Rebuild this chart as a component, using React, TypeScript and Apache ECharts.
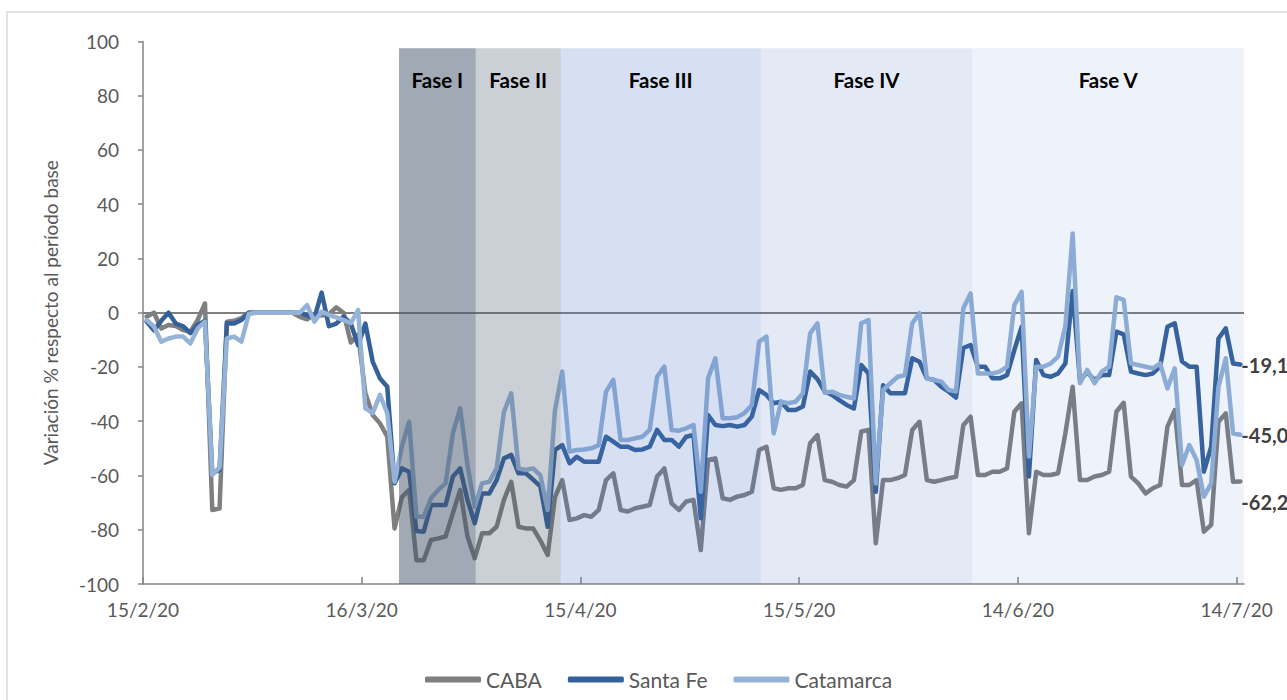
import React, { useEffect, useRef } from "react";
import * as echarts from "echarts";

const tickLabels = ["15/2/20", "16/3/20", "15/4/20", "15/5/20", "14/6/20", "14/7/20"];

const caba = [
  -1.5, 0, -5.8, -4.5, -4.9, -6.4, -7, -2.7, 3.4, -72.7,
  -72.2, -3.3, -3, -2, 0, 0, 0, 0, 0, 0,
  0, -1.5, -2.5, -0.5, -1, -0.5, 2, 0, -11, -8,
  -29.7, -37.7, -40.8, -45.7, -79.5, -68, -65.3, -91.2, -91.2, -83.8,
  -83.2, -82.5, -73.9, -65.3, -82.5, -90.5, -81.3, -81.3, -78.9, -69,
  -62.3, -78.9, -79.5, -79.5, -84, -89.3, -68, -61.7, -76.4, -75.8,
  -74.6, -75.2, -72.7, -61.7, -59.2, -72.7, -73.3, -72.1, -71.5, -70.9,
  -60.4, -57.4, -70.3, -72.7, -69.6, -69, -87.5, -54.3, -53.7, -68.4,
  -69, -67.8, -67.2, -66, -50.6, -49.4, -64.7, -65.3, -64.7, -64.7,
  -63.5, -48.1, -45.1, -61.7, -62.3, -63.5, -64.1, -61.7, -43.8, -43.2,
  -85, -61.7, -61.7, -61, -59.8, -43.2, -40.2, -61.7, -62.3, -61.7,
  -61, -60.5, -41.5, -38.3, -59.8, -59.8, -58.6, -58.6, -57.4, -36.5,
  -33.4, -81.3, -58.6, -59.8, -59.8, -59.2, -44.5, -27.3, -61.7, -61.7,
  -60.4, -59.8, -58.6, -36.5, -33.2, -60.4, -62.9, -66.6, -64.7, -63.5,
  -42, -35.9, -63.5, -63.5, -61.7, -80.7, -78.2, -40.2, -37.1, -62.3,
  -62.2,
];

const santaFe = [
  -3.3, -6.5, -3, 0, -4, -5, -7.5, -4.5, -3, -59,
  -58, -3.9, -4, -2.7, 0, 0, 0, 0, 0, 0,
  0, 0, -1, -2, 7.4, -5, -4, -1.5, -4, -12,
  -4, -18, -24.2, -27.3, -62.9, -57.4, -58.6, -80.5, -80.7, -70.9,
  -70.9, -70.9, -60.4, -57.4, -69, -77.6, -66.6, -66.6, -61.7, -53.7,
  -52.4, -59.2, -59.2, -61.5, -64, -78.9, -50.6, -48.8, -55.5, -53.1,
  -54.9, -54.9, -54.9, -45.7, -47.5, -49.4, -49.4, -50.6, -50.4, -49.4,
  -43.2, -46.9, -46.9, -49.4, -45.7, -45.1, -75.8, -37.7, -41.4, -41.8,
  -41.4, -42, -41.4, -38.3, -28.5, -30.3, -33.4, -32.8, -35.9, -35.9,
  -34.6, -21.7, -24.5, -29, -30.3, -32.2, -34, -35.3, -19.3, -22.4,
  -66, -26.7, -29.7, -29.7, -29.7, -16.8, -18.1, -24.2, -24.8, -27.3,
  -29.1, -31.3, -13, -11.9, -19.9, -19.9, -24.2, -24.2, -23, -13.8,
  -5.2, -60.4, -17.4, -23, -23.6, -22.4, -18.7, 8, -24.8, -22,
  -24.8, -23, -23, -7, -8, -21.7, -22.4, -23, -22.4, -19.9,
  -5.2, -3.9, -18, -19.9, -19.9, -58.6, -49.4, -9.5, -5.8, -18.7,
  -19.1,
];

const catamarca = [
  -2.7, -5.1, -10.7, -9.5, -8.8, -8.8, -11.3, -5.8, -3.3, -59.8,
  -57, -9.5, -8.8, -10.7, -0.5, 0, 0, 0, 0, 0,
  0, 0, 2.8, -3.3, 0.4, -0.8, -1.7, -2.7, -3.9, 1,
  -35.3, -37, -30.3, -37, -62.3, -49.4, -40.2, -75.2, -75.2, -68.4,
  -65.3, -62.9, -44.5, -35.2, -56.1, -71.5, -62.9, -62.3, -57.4, -36.5,
  -29.7, -57.4, -58, -57.4, -60, -72.7, -35.9, -21.7, -51.2, -50.6,
  -50.4, -50, -48.8, -29.1, -24.8, -46.9, -46.9, -46.3, -45.7, -43.2,
  -23.6, -19.9, -43.2, -43.5, -42.6, -41.4, -66, -24.2, -16.8, -38.9,
  -38.9, -38.5, -37, -34, -10.7, -8.8, -44.5, -32.8, -33.4, -32.8,
  -29.7, -7.6, -3.9, -29.5, -29.1, -30.3, -31, -31.6, -3.9, -2.7,
  -63, -28.5, -26, -23.6, -23, -3.9, -0.2, -24.2, -24.8, -25.4,
  -28.5, -29, 1.6, 7.1, -22.4, -22.4, -22.4, -21.7, -19.9, 2.8,
  7.7, -53, -19.9, -19.9, -18.7, -16.2, -5, 29.2, -26, -21.1,
  -26, -21.7, -19.9, 5.7, 4.7, -18.7, -19.3, -19.9, -20.5, -18.7,
  -27.9, -20.5, -56.1, -48.8, -54.3, -67.8, -62.9, -27.3, -16.8, -44.5,
  -45,
];

const phaseNames = ["Fase I", "Fase II", "Fase III", "Fase IV", "Fase V"];
const phaseStart = [35.11, 45.63, 57.29, 84.72, 113.74];
const phaseEnd = [45.63, 57.29, 84.72, 113.74, 152.74];
const phaseColors = [
  "rgba(68,84,106,0.5)",
  "rgba(68,84,106,0.28)",
  "rgba(68,114,196,0.22)",
  "rgba(68,114,196,0.15)",
  "rgba(68,114,196,0.09)",
];

const FONT = "Lato, 'Open Sans', sans-serif";

function toPairs(values: number[]) {
  return values.map((v, i) => [i + 0.5, v]);
}

function fmtEnd(p: any) {
  const v = Array.isArray(p.value) ? p.value[1] : p.value;
  return Number(v).toFixed(1).replace(".", ",");
}

export default function App() {
  const ref = useRef<HTMLDivElement>(null);
  useEffect(() => {
    document.body.style.margin = "0";
    if (!ref.current) return;
    const chart = echarts.init(ref.current, undefined, { renderer: "svg" });
    const endLabelBase = {
      show: true,
      formatter: fmtEnd,
      fontFamily: FONT,
      fontWeight: "bold" as const,
      fontSize: 20,
      color: "#404040",
      distance: 1,
    };
    const lineSeries = (name: string, values: number[], color: string, z: number, offsetY: number) => ({
      name,
      type: "line",
      data: toPairs(values),
      symbol: "none",
      z,
      lineStyle: { color, width: 4.5, join: "round", cap: "round" },
      itemStyle: { color },
      endLabel: { ...endLabelBase, offset: [0, offsetY] },
    });
    chart.setOption({
      animation: false,
      grid: { left: 143, right: 43, top: 41.4, bottom: 116, containLabel: false },
      graphic: [
        {
          type: "rect",
          shape: { x: 7, y: 12, width: 1400, height: 800 },
          style: { fill: "none", stroke: "#D9D9D9", lineWidth: 1.5 },
          silent: true,
        },
      ],
      legend: {
        data: ["CABA", "Santa Fe", "Catamarca"],
        left: 420,
        top: 664,
        icon: "roundRect",
        itemWidth: 56,
        itemHeight: 6,
        itemGap: 26,
        textStyle: { fontFamily: FONT, fontSize: 21, color: "#595959" },
      },
      xAxis: {
        type: "value",
        min: 0,
        max: 151,
        interval: 30,
        splitLine: { show: false },
        axisLine: { show: true, onZero: false, lineStyle: { color: "#868686", width: 1.5 } },
        axisTick: { show: true, inside: true, length: 7, lineStyle: { color: "#868686", width: 1.5 } },
        axisLabel: {
          showMaxLabel: false,
          margin: 16,
          fontFamily: FONT,
          fontSize: 19,
          color: "#595959",
          formatter: (v: number) => (v % 30 === 0 ? tickLabels[v / 30] ?? "" : ""),
        },
      },
      yAxis: {
        type: "value",
        min: -100,
        max: 100,
        interval: 20,
        name: "Variación % respecto al período base",
        nameLocation: "middle",
        nameGap: 83,
        nameTextStyle: { fontFamily: FONT, fontSize: 19, color: "#595959" },
        splitLine: { show: false },
        axisLine: { show: true, onZero: false, lineStyle: { color: "#868686", width: 1.5 } },
        axisTick: { show: true, length: 5, lineStyle: { color: "#868686", width: 1.5 } },
        axisLabel: { margin: 24, fontFamily: FONT, fontSize: 19, color: "#595959" },
      },
      series: [
        {
          ...lineSeries("CABA", caba, "#7F7F7F", 2, 21),
          markLine: {
            silent: true,
            symbol: "none",
            z: 1,
            label: { show: false },
            lineStyle: { color: "#7F7F7F", width: 2, type: "solid" },
            data: [{ yAxis: 0 }],
          },
        },
        lineSeries("Santa Fe", santaFe, "#35619A", 3, 0),
        lineSeries("Catamarca", catamarca, "#95B3D7", 4, 0),
        {
          name: "fases",
          type: "line",
          data: [],
          z: 10,
          markArea: {
            silent: true,
            z: 10,
            label: {
              show: true,
              position: "insideTop",
              distance: 21,
              color: "#000000",
              fontWeight: "bold",
              fontSize: 20.5,
              fontFamily: FONT,
            },
            data: phaseNames.map((n, i) => [
              { name: n, xAxis: phaseStart[i], yAxis: -100, itemStyle: { color: phaseColors[i] } },
              { xAxis: phaseEnd[i], yAxis: 97.5 },
            ]),
          },
        },
      ],
    });
    return () => chart.dispose();
  }, []);
  return <div ref={ref} style={{ width: 1287, height: 700 }} />;
}
